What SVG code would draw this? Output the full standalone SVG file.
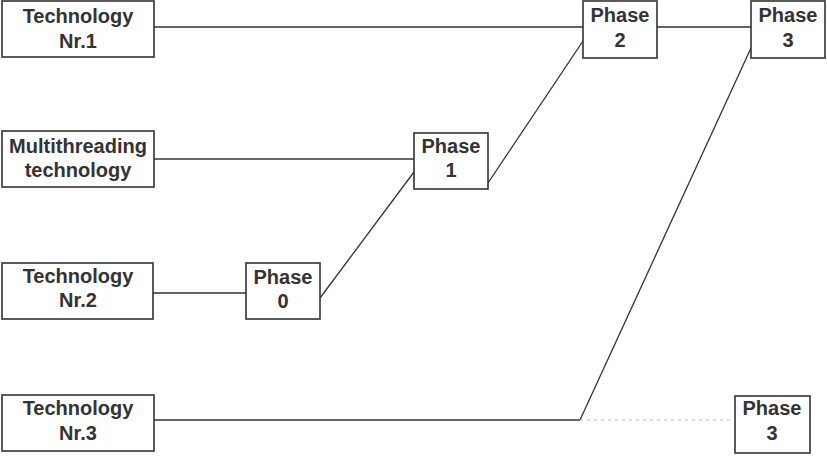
<svg xmlns="http://www.w3.org/2000/svg" width="827" height="472" viewBox="0 0 827 472">
<style>
.box{fill:#fff;stroke:#333;stroke-width:1.6}
.t{font-family:"Liberation Sans",Arial,sans-serif;font-weight:bold;font-size:20px;fill:#333;text-anchor:middle}
.c{stroke:#333;stroke-width:1.3;fill:none}
.d{stroke:#bbb;stroke-width:1;stroke-dasharray:3 4;fill:none}
</style>
<rect width="827" height="472" fill="#fff"/>
<g id="connectors">
<line class="c" x1="154" y1="27" x2="583" y2="27"/>
<line class="c" x1="657" y1="27" x2="751" y2="27"/>
<line class="c" x1="154" y1="159" x2="414" y2="159"/>
<line class="c" x1="153" y1="293" x2="246" y2="293"/>
<line class="c" x1="320" y1="298" x2="414" y2="172"/>
<line class="c" x1="488" y1="183" x2="583" y2="41"/>
<line class="c" x1="154" y1="420" x2="580" y2="420"/>
<line class="c" x1="580" y1="420" x2="751" y2="48"/>
<line class="d" x1="580" y1="420" x2="734" y2="420"/>
</g>
<g id="tech1"><rect class="box" x="2" y="1" width="152" height="56"/><text class="t" x="78" y="23">Technology</text><text class="t" x="78" y="48">Nr.1</text></g>
<g id="multi"><rect class="box" x="2" y="131" width="152" height="56"/><text class="t" x="78" y="153">Multithreading</text><text class="t" x="78" y="177">technology</text></g>
<g id="tech2"><rect class="box" x="2" y="263" width="151" height="56"/><text class="t" x="78" y="283">Technology</text><text class="t" x="78" y="307">Nr.2</text></g>
<g id="tech3"><rect class="box" x="2" y="395" width="152" height="56"/><text class="t" x="78" y="415">Technology</text><text class="t" x="78" y="440">Nr.3</text></g>
<g id="phase0"><rect class="box" x="246" y="263" width="74" height="56"/><text class="t" x="283" y="284">Phase</text><text class="t" x="283" y="308">0</text></g>
<g id="phase1"><rect class="box" x="414" y="133" width="74" height="56"/><text class="t" x="451" y="153">Phase</text><text class="t" x="451" y="177">1</text></g>
<g id="phase2"><rect class="box" x="583" y="1" width="74" height="57"/><text class="t" x="620" y="22">Phase</text><text class="t" x="620" y="47">2</text></g>
<g id="phase3top"><rect class="box" x="751" y="1" width="74" height="57"/><text class="t" x="788" y="22">Phase</text><text class="t" x="788" y="47">3</text></g>
<g id="phase3bottom"><rect class="box" x="735" y="396" width="75" height="57"/><text class="t" x="772" y="415">Phase</text><text class="t" x="772" y="440">3</text></g>
</svg>
